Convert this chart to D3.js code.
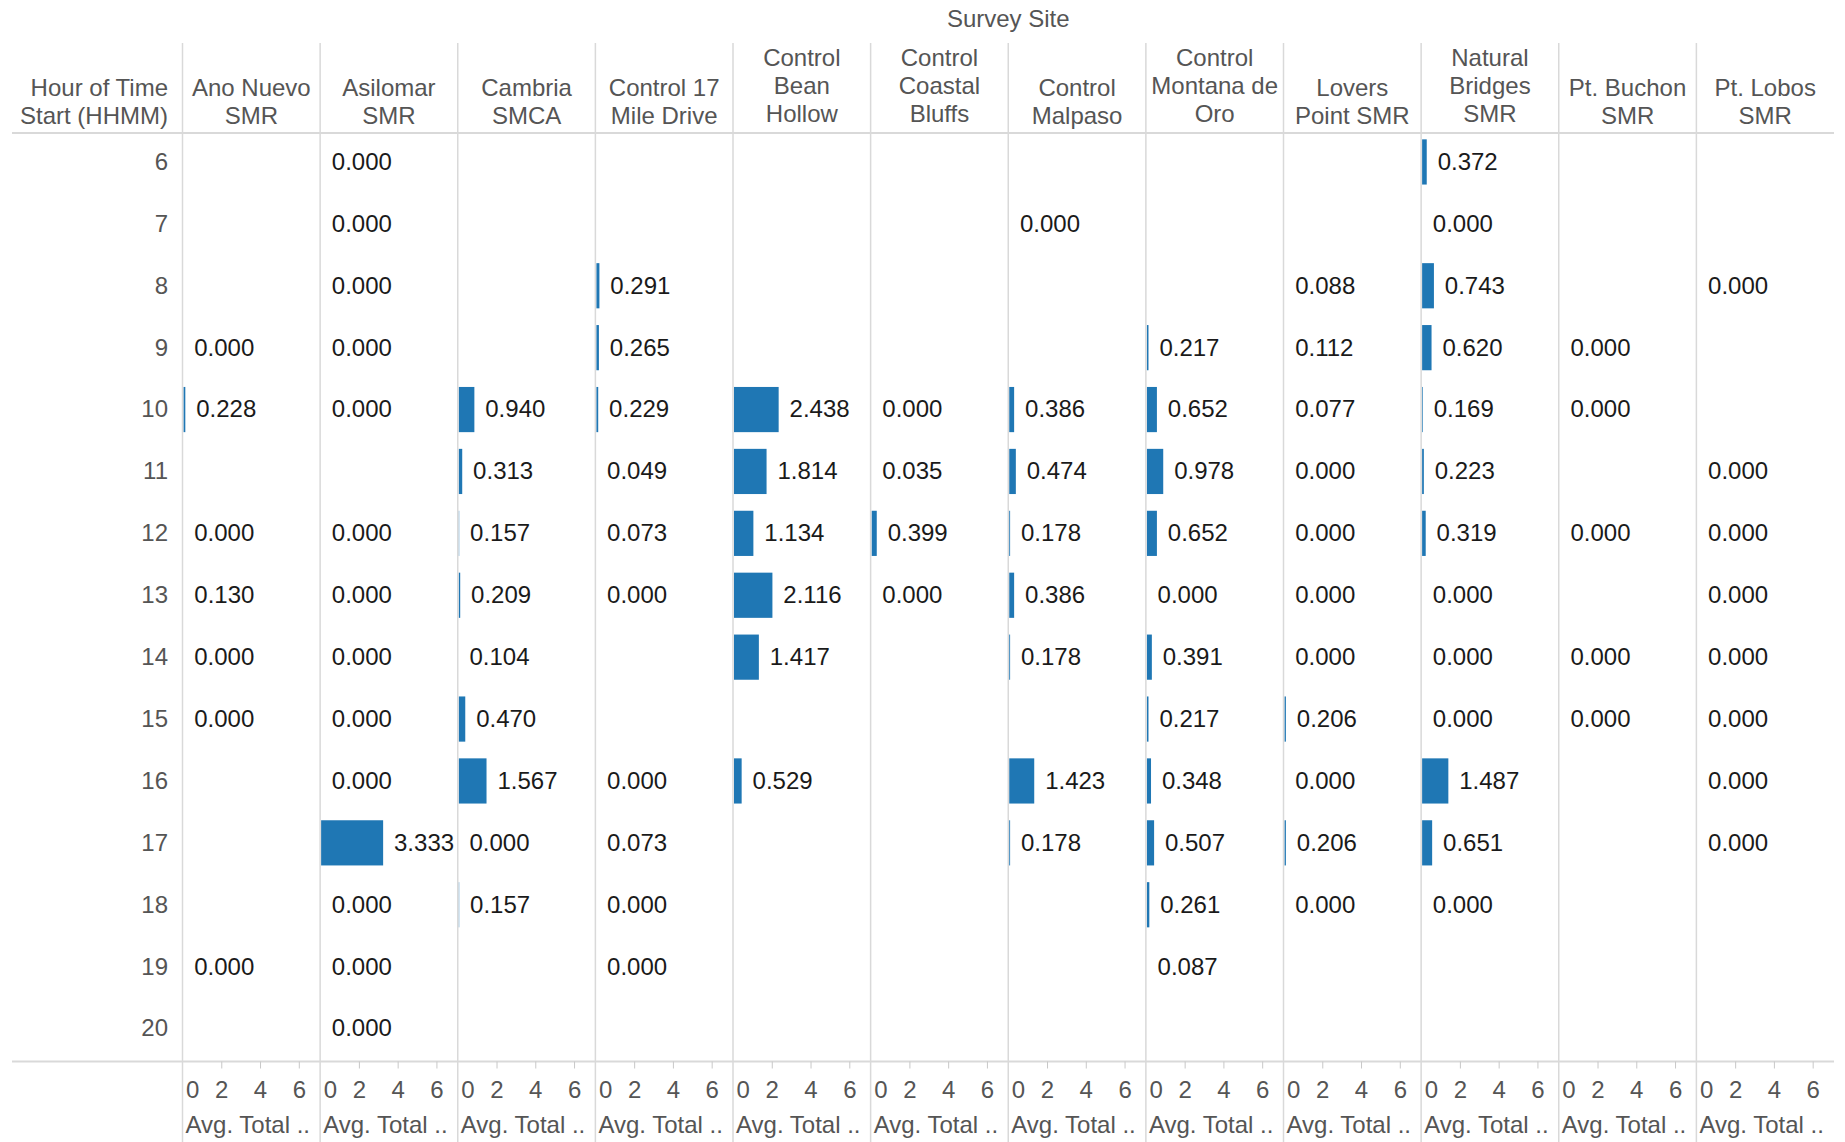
<!DOCTYPE html>
<html>
<head>
<meta charset="utf-8">
<script src="https://cdn.jsdelivr.net/npm/d3@7"></script>
<style>
  body { margin: 0; background: #fff; }
  text { font-family: "Liberation Sans", Arial, sans-serif; }
</style>
</head>
<body>
<script>
// hours of time start (rows)
var hours = [6, 7, 8, 9, 10, 11, 12, 13, 14, 15, 16, 17, 18, 19, 20];

// survey sites (columns) and how the header wraps
var sites = ["Ano Nuevo SMR", "Asilomar SMR", "Cambria SMCA", "Control 17 Mile Drive",
  "Control Bean Hollow", "Control Coastal Bluffs", "Control Malpaso",
  "Control Montana de Oro", "Lovers Point SMR", "Natural Bridges SMR",
  "Pt. Buchon SMR", "Pt. Lobos SMR"];
var siteLines = [["Ano Nuevo", "SMR"], ["Asilomar", "SMR"], ["Cambria", "SMCA"],
  ["Control 17", "Mile Drive"], ["Control", "Bean", "Hollow"], ["Control", "Coastal", "Bluffs"],
  ["Control", "Malpaso"], ["Control", "Montana de", "Oro"], ["Lovers", "Point SMR"],
  ["Natural", "Bridges", "SMR"], ["Pt. Buchon", "SMR"], ["Pt. Lobos", "SMR"]];

// Avg. Total per hour (6..20), null = no survey
var anoNuevo       = [null, null, null, 0.000, 0.228, null, 0.000, 0.130, 0.000, 0.000, null, null, null, 0.000, null];
var asilomar       = [0.000, 0.000, 0.000, 0.000, 0.000, null, 0.000, 0.000, 0.000, 0.000, 0.000, 3.333, 0.000, 0.000, 0.000];
var cambria        = [null, null, null, null, 0.940, 0.313, 0.157, 0.209, 0.104, 0.470, 1.567, 0.000, 0.157, null, null];
var control17Mile  = [null, null, 0.291, 0.265, 0.229, 0.049, 0.073, 0.000, null, null, 0.000, 0.073, 0.000, 0.000, null];
var beanHollow     = [null, null, null, null, 2.438, 1.814, 1.134, 2.116, 1.417, null, 0.529, null, null, null, null];
var coastalBluffs  = [null, null, null, null, 0.000, 0.035, 0.399, 0.000, null, null, null, null, null, null, null];
var malpaso        = [null, 0.000, null, null, 0.386, 0.474, 0.178, 0.386, 0.178, null, 1.423, 0.178, null, null, null];
var montanaDeOro   = [null, null, null, 0.217, 0.652, 0.978, 0.652, 0.000, 0.391, 0.217, 0.348, 0.507, 0.261, 0.087, null];
var loversPoint    = [null, null, 0.088, 0.112, 0.077, 0.000, 0.000, 0.000, 0.000, 0.206, 0.000, 0.206, 0.000, null, null];
var naturalBridges = [0.372, 0.000, 0.743, 0.620, 0.169, 0.223, 0.319, 0.000, 0.000, 0.000, 1.487, 0.651, 0.000, null, null];
var ptBuchon       = [null, null, null, 0.000, 0.000, null, 0.000, null, 0.000, 0.000, null, null, null, null, null];
var ptLobos        = [null, null, 0.000, null, null, 0.000, 0.000, 0.000, 0.000, 0.000, 0.000, 0.000, null, null, null];

var xTicks = [0, 2, 4, 6];

var seriesValues = [anoNuevo, asilomar, cambria, control17Mile, beanHollow, coastalBluffs,
  malpaso, montanaDeOro, loversPoint, naturalBridges, ptBuchon, ptLobos];

main();

function main() {
  setupCanvas();
  setupScales();
  drawBars();
  drawGrid();
  drawHeaders();
  drawRowLabels();
  drawLabels();
  drawAxes();
}

function setupCanvas() {
  width = 1845;
  height = 1142;
  headerTop = 43;
  headerBottom = 133;
  rowsBottom = 1061.5;
  shift = -2.5;      // row content sits a bit above the band middle
  fontSize = "24px";
  svg = d3.select("body").append("svg")
    .attr("width", width)
    .attr("height", height);
}

function setupScales() {
  col = d3.scaleBand().domain(sites).range([182.5, 1834]);
  row = d3.scaleBand().domain(hours).range([headerBottom, rowsBottom]);
  x = d3.scaleLinear().domain([0, 7.1]).range([0, col.bandwidth()]);
  cells = [];
  sites.forEach(function (s, si) {
    seriesValues[si].forEach(function (v, hi) {
      if (v !== null) cells.push({ site: s, hour: hours[hi], value: v });
    });
  });
}

function rowMid(h) { return row(h) + row.bandwidth() / 2 + shift; }

function drawGrid() {
  // vertical separators between sites
  svg.selectAll("line.sep")
    .data(sites)
    .enter().append("line")
    .attr("class", "sep")
    .attr("x1", function (d) { return col(d); })
    .attr("x2", function (d) { return col(d); })
    .attr("y1", headerTop)
    .attr("y2", height)
    .attr("stroke", "#d9d9d9")
    .attr("stroke-width", 1.5);

  // header bottom and row bottom lines
  [headerBottom, rowsBottom].forEach(function (yy) {
    svg.append("line")
      .attr("x1", 12).attr("x2", 1834)
      .attr("y1", yy).attr("y2", yy)
      .attr("stroke", "#d9d9d9")
      .attr("stroke-width", 2);
  });
}

function drawHeaders() {
  svg.append("text")
    .attr("x", col(sites[0]) + (1834 - col(sites[0])) / 2)
    .attr("y", 19)
    .attr("dy", "0.35em")
    .attr("text-anchor", "middle")
    .attr("fill", "#555")
    .style("font-size", fontSize)
    .text("Survey Site");

  var lineH = 28, lastY = 116;
  var rowHead = ["Hour of Time", "Start (HHMM)"];
  rowHead.forEach(function (t, i) {
    svg.append("text")
      .attr("x", 168)
      .attr("y", lastY - (rowHead.length - 1 - i) * lineH)
      .attr("dy", "0.35em")
      .attr("text-anchor", "end")
      .attr("fill", "#555")
      .style("font-size", fontSize)
      .text(t);
  });

  sites.forEach(function (s, si) {
    var lines = siteLines[si];
    lines.forEach(function (t, i) {
      svg.append("text")
        .attr("x", col(s) + col.bandwidth() / 2)
        .attr("y", lastY - (lines.length - 1 - i) * lineH - (lines.length > 2 ? 2 : 0))
        .attr("dy", "0.35em")
        .attr("text-anchor", "middle")
        .attr("fill", "#555")
        .style("font-size", fontSize)
        .text(t);
    });
  });
}

function drawRowLabels() {
  svg.selectAll("text.hour")
    .data(hours)
    .enter().append("text")
    .attr("class", "hour")
    .attr("x", 168)
    .attr("y", function (d) { return rowMid(d); })
    .attr("dy", "0.35em")
    .attr("text-anchor", "end")
    .attr("fill", "#555")
    .style("font-size", fontSize)
    .text(function (d) { return d; });
}

function drawBars() {
  var barH = row.bandwidth() * 0.73;
  svg.selectAll("rect.bar")
    .data(cells)
    .enter().append("rect")
    .attr("class", "bar")
    .attr("x", function (d) { return col(d.site) + 1; })
    .attr("y", function (d) { return rowMid(d.hour) + 0.5 - barH / 2; })
    .attr("width", function (d) { return Math.max(0, x(d.value) - 2.6); })
    .attr("height", barH)
    .attr("fill", "#1f77b4");
}

function drawLabels() {
  svg.selectAll("text.val")
    .data(cells)
    .enter().append("text")
    .attr("class", "val")
    .attr("x", function (d) { return col(d.site) + Math.max(11.7, x(d.value) + 9.3); })
    .attr("y", function (d) { return rowMid(d.hour); })
    .attr("dy", "0.35em")
    .attr("fill", "#1a1a1a")
    .style("font-size", fontSize)
    .text(function (d) { return d3.format(".3f")(d.value); });
}

function drawAxes() {
  sites.forEach(function (s) {
    var g = svg.append("g")
      .attr("transform", "translate(" + col(s) + "," + rowsBottom + ")");
    g.call(d3.axisBottom(x).tickValues(xTicks).tickSize(7).tickFormat(d3.format("d")));
    g.select(".domain").remove();
    g.selectAll(".tick line").attr("stroke", "#c8c8c8");
    g.selectAll(".tick text")
      .attr("y", 28.5)
      .attr("dy", "0.35em")
      .attr("fill", "#555")
      .style("font-size", fontSize)
      .style("font-family", "'Liberation Sans', Arial, sans-serif");
    g.selectAll(".tick").filter(function (d) { return d === 0; }).select("text")
      .attr("text-anchor", "start")
      .attr("x", 3);
    g.selectAll(".tick").filter(function (d) { return d === 0; }).select("line").remove();

    svg.append("text")
      .attr("x", col(s) + 3)
      .attr("y", 1125)
      .attr("dy", "0.35em")
      .attr("fill", "#555")
      .style("font-size", fontSize)
      .text("Avg. Total ..");
  });
}
</script>
</body>
</html>
